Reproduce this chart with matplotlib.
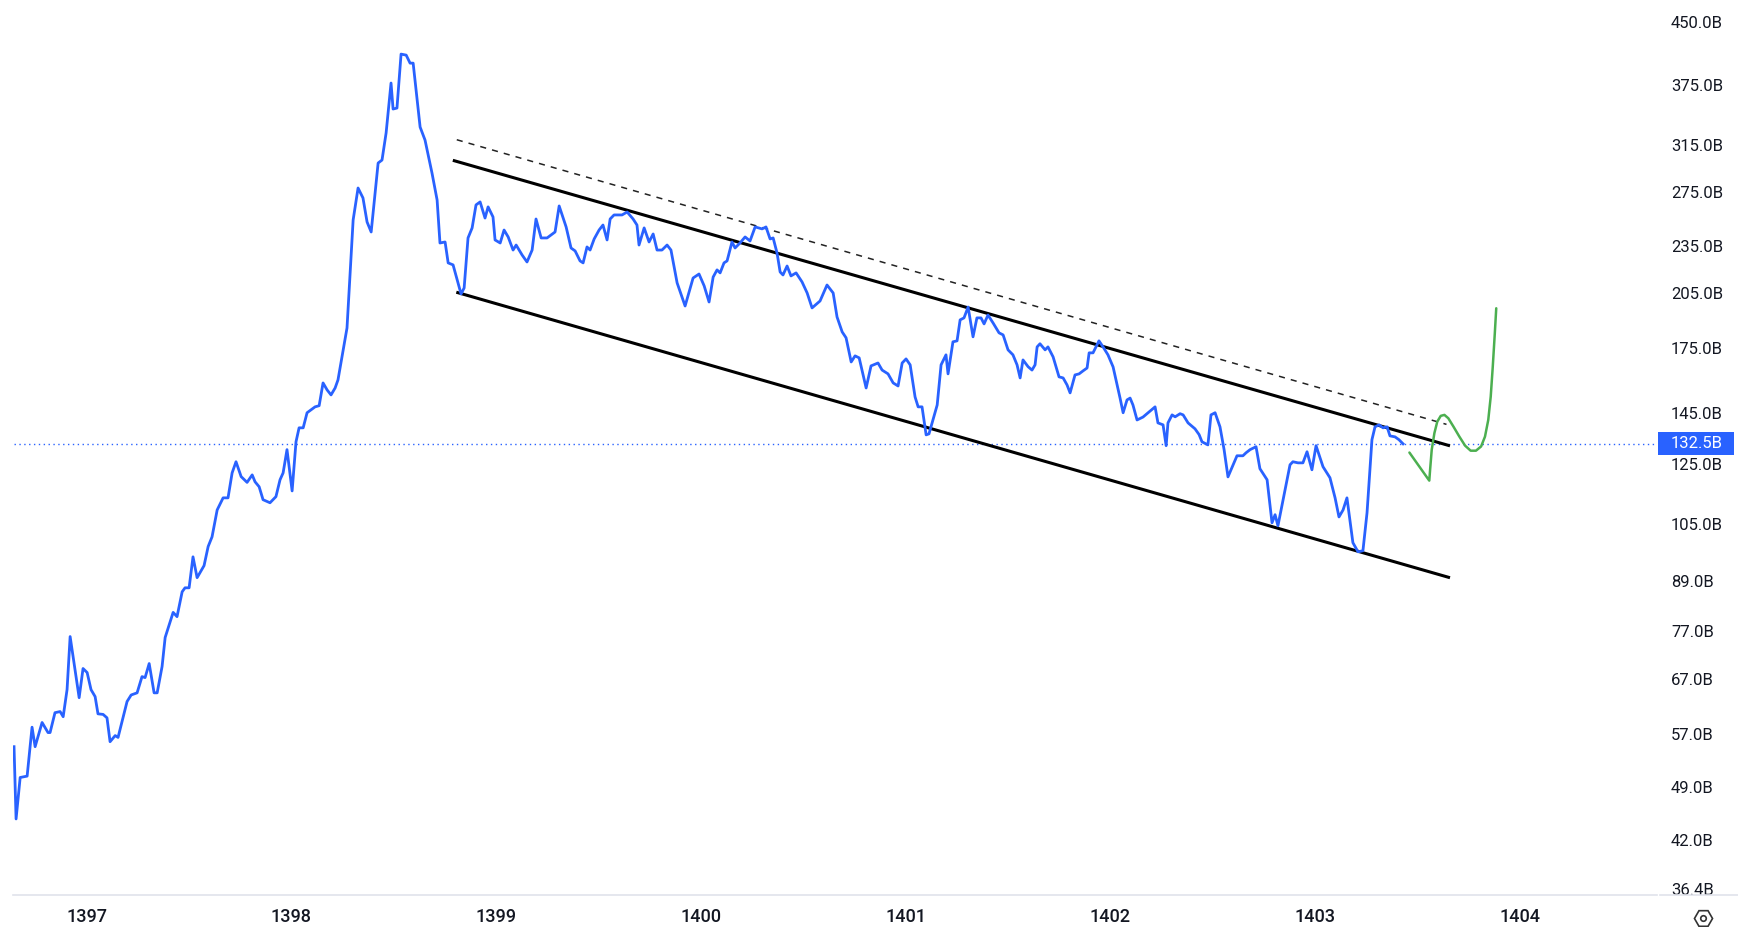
import matplotlib.pyplot as plt
from matplotlib.lines import Line2D
from matplotlib.patches import Rectangle
from matplotlib.ticker import NullLocator

plt.rcParams['font.family'] = ['Roboto', 'DejaVu Sans']

# price history (time in fractional years, value in billions)
price_t = [1396.646, 1396.656, 1396.676, 1396.710, 1396.734, 1396.749, 1396.783, 1396.812, 1396.822, 1396.846,
           1396.871, 1396.886, 1396.905, 1396.920, 1396.964, 1396.983, 1397.003, 1397.022, 1397.042, 1397.056,
           1397.081, 1397.100, 1397.115, 1397.140, 1397.154, 1397.198, 1397.218, 1397.247, 1397.271, 1397.286,
           1397.306, 1397.330, 1397.345, 1397.369, 1397.384, 1397.423, 1397.442, 1397.467, 1397.481, 1397.501,
           1397.520, 1397.540, 1397.574, 1397.594, 1397.613, 1397.638, 1397.667, 1397.691, 1397.711, 1397.730,
           1397.755, 1397.784, 1397.809, 1397.823, 1397.843, 1397.862, 1397.896, 1397.925, 1397.945, 1397.960,
           1397.979, 1398.004, 1398.023, 1398.038, 1398.058, 1398.077, 1398.116, 1398.136, 1398.155, 1398.175,
           1398.194, 1398.214, 1398.228, 1398.272, 1398.302, 1398.326, 1398.350, 1398.370, 1398.390, 1398.424,
           1398.443, 1398.463, 1398.487, 1398.497, 1398.516, 1398.536, 1398.561, 1398.580, 1398.595, 1398.629,
           1398.653, 1398.687, 1398.712, 1398.726, 1398.751, 1398.766, 1398.790, 1398.829, 1398.844, 1398.863,
           1398.883, 1398.902, 1398.922, 1398.946, 1398.961, 1398.985, 1398.995, 1399.020, 1399.039, 1399.059,
           1399.083, 1399.098, 1399.127, 1399.151, 1399.176, 1399.195, 1399.220, 1399.249, 1399.288, 1399.308,
           1399.342, 1399.366, 1399.386, 1399.410, 1399.425, 1399.444, 1399.459, 1399.479, 1399.503, 1399.522,
           1399.542, 1399.557, 1399.576, 1399.615, 1399.640, 1399.669, 1399.688, 1399.698, 1399.723, 1399.747,
           1399.767, 1399.786, 1399.810, 1399.835, 1399.854, 1399.884, 1399.923, 1399.962, 1399.991, 1400.016,
           1400.040, 1400.060, 1400.079, 1400.094, 1400.113, 1400.128, 1400.152, 1400.167, 1400.191, 1400.216,
           1400.240, 1400.265, 1400.299, 1400.318, 1400.338, 1400.353, 1400.372, 1400.387, 1400.401, 1400.421,
           1400.440, 1400.465, 1400.494, 1400.519, 1400.543, 1400.582, 1400.616, 1400.646, 1400.665, 1400.690,
           1400.709, 1400.734, 1400.753, 1400.773, 1400.807, 1400.831, 1400.865, 1400.885, 1400.914, 1400.939,
           1400.963, 1400.983, 1401.002, 1401.022, 1401.046, 1401.061, 1401.080, 1401.100, 1401.114, 1401.154,
           1401.173, 1401.197, 1401.207, 1401.231, 1401.251, 1401.266, 1401.285, 1401.305, 1401.329, 1401.348,
           1401.368, 1401.383, 1401.402, 1401.427, 1401.456, 1401.476, 1401.500, 1401.524, 1401.544, 1401.559,
           1401.573, 1401.598, 1401.617, 1401.632, 1401.642, 1401.656, 1401.681, 1401.695, 1401.720, 1401.749,
           1401.769, 1401.788, 1401.803, 1401.827, 1401.847, 1401.866, 1401.886, 1401.896, 1401.915, 1401.944,
           1401.964, 1401.988, 1402.013, 1402.047, 1402.062, 1402.081, 1402.096, 1402.110, 1402.130, 1402.159,
           1402.218, 1402.232, 1402.257, 1402.272, 1402.281, 1402.301, 1402.316, 1402.340, 1402.355, 1402.379,
           1402.413, 1402.433, 1402.447, 1402.476, 1402.491, 1402.511, 1402.535, 1402.555, 1402.574, 1402.608,
           1402.618, 1402.647, 1402.662, 1402.682, 1402.711, 1402.730, 1402.765, 1402.789, 1402.804, 1402.818,
           1402.843, 1402.877, 1402.891, 1402.916, 1402.940, 1402.960, 1402.984, 1403.004, 1403.038, 1403.072,
           1403.097, 1403.116, 1403.136, 1403.155, 1403.184, 1403.209, 1403.233, 1403.253, 1403.277, 1403.292,
           1403.312, 1403.331, 1403.351, 1403.365, 1403.390, 1403.409, 1403.429]
price_b = [55.0, 44.6, 50.3, 50.5, 58.2, 55.0, 59.0, 57.3, 57.3, 60.7,
           60.9, 60.0, 64.9, 75.7, 63.4, 69.0, 68.2, 64.9, 63.6, 60.5,
           60.4, 59.8, 55.8, 56.8, 56.5, 62.7, 63.9, 64.3, 67.4, 67.2,
           70.0, 64.3, 64.3, 69.4, 75.5, 81.2, 80.2, 86.2, 87.2, 87.2,
           95.4, 89.8, 93.0, 98.3, 101.1, 109.3, 113.2, 113.2, 121.7, 125.7,
           120.4, 118.4, 121.0, 118.6, 116.9, 112.6, 111.6, 113.6, 119.3, 121.7,
           130.2, 115.5, 133.2, 138.7, 138.7, 144.9, 147.4, 147.9, 158.0, 154.8,
           152.6, 155.7, 159.4, 185.3, 253.5, 278.1, 270.2, 252.0, 244.8, 299.0,
           301.6, 326.3, 377.1, 349.7, 350.7, 410.1, 408.9, 399.5, 399.5, 331.9,
           319.6, 290.5, 268.6, 237.1, 237.8, 223.8, 222.5, 204.5, 208.1, 240.6,
           247.7, 264.8, 267.1, 254.9, 263.3, 255.7, 239.2, 237.1, 246.2, 241.3,
           232.3, 235.7, 229.0, 224.4, 232.3, 254.2, 240.6, 240.6, 244.8, 264.0,
           248.4, 233.7, 231.7, 225.1, 223.8, 234.4, 232.3, 239.9, 246.2, 249.8,
           239.2, 254.2, 257.2, 257.2, 259.4, 254.2, 249.8, 235.7, 247.7, 237.8,
           243.4, 232.3, 232.3, 235.7, 232.3, 211.2, 197.5, 214.2, 216.7, 209.4,
           199.8, 214.8, 219.3, 217.4, 223.8, 225.1, 237.8, 233.7, 237.1, 241.3,
           238.5, 248.4, 247.0, 248.4, 239.9, 240.6, 230.3, 218.0, 216.1, 221.8,
           215.5, 217.4, 211.8, 205.1, 196.4, 200.4, 209.9, 205.1, 191.3, 183.2,
           180.1, 167.9, 170.9, 169.9, 155.7, 166.0, 167.4, 164.0, 162.2, 158.0,
           156.6, 167.4, 169.4, 166.5, 151.7, 147.4, 147.4, 135.9, 136.3, 148.2,
           166.5, 171.4, 162.2, 178.0, 178.5, 189.7, 190.8, 196.9, 180.6, 190.8,
           190.8, 187.5, 192.4, 188.0, 182.7, 181.6, 173.9, 171.4, 166.5, 160.3,
           168.9, 165.6, 164.0, 166.5, 175.4, 177.0, 173.9, 175.4, 170.4, 160.8,
           160.3, 157.1, 153.5, 161.7, 162.2, 163.6, 165.0, 172.4, 172.4, 178.5,
           175.4, 171.4, 165.5, 151.2, 144.9, 150.4, 151.2, 148.2, 141.9, 143.1,
           147.4, 140.7, 139.9, 131.7, 140.7, 144.0, 143.2, 144.5, 144.0, 140.7,
           138.3, 136.0, 133.2, 132.0, 144.0, 144.9, 139.1, 130.2, 120.3, 126.1,
           127.9, 127.9, 129.0, 130.2, 131.3, 123.2, 119.3, 105.3, 107.8, 104.4,
           112.6, 124.6, 125.7, 125.3, 125.3, 129.4, 122.8, 131.7, 123.9, 120.0,
           113.2, 107.1, 109.3, 113.2, 99.4, 96.8, 97.1, 108.4, 134.0, 139.1,
           139.9, 138.7, 139.1, 135.5, 135.1, 134.0, 132.4]

# hand-drawn projection
proj_t = [1403.460, 1403.557, 1403.561, 1403.569, 1403.582, 1403.596, 1403.613, 1403.631, 1403.650,
          1403.675, 1403.704, 1403.732, 1403.759, 1403.785, 1403.810, 1403.829, 1403.845, 1403.857,
          1403.867, 1403.877, 1403.884]
proj_b = [129.1, 119.0, 122.8, 130.2, 136.6, 141.2, 143.6, 144.0, 142.6,
          139.2, 135.2, 131.7, 129.8, 129.8, 131.4, 135.2, 141.9, 151.8,
          165.6, 182.5, 196.2]

# channel lines (start, end)
upper_t = [1398.796, 1403.651]
upper_b = [301.0, 131.8]
lower_t = [1398.813, 1403.651]
lower_b = [205.3, 89.9]
dash_t = [1398.808, 1403.641]
dash_b = [319.9, 140.1]

last_price = 132.5
years = [1397, 1398, 1399, 1400, 1401, 1402, 1403, 1404]
yticks = [450, 375, 315, 275, 235, 205, 175, 145, 125, 105, 89, 77, 67, 57, 49, 42, 36.4]

W, H = 1738, 927
fig = plt.figure(figsize=(W / 100, H / 100), dpi=100)
ax = fig.add_axes([13 / W, 1 - 895 / H, (1657 - 13) / W, 895 / H])

ax.set_yscale('log')
ax.set_xlim(1396.641, 1404.669)
ax.set_ylim(35.77, 479.8)

ax.plot(price_t, price_b, color='#2962ff', lw=2.0, solid_joinstyle='round', zorder=3)
ax.plot(proj_t, proj_b, color='#4caf50', lw=1.8, solid_joinstyle='round', solid_capstyle='round', zorder=3)
ax.plot(upper_t, upper_b, color='black', lw=2.2, zorder=2)
ax.plot(lower_t, lower_b, color='black', lw=2.2, zorder=2)
ax.plot(dash_t, dash_b, color='#222222', lw=1.1, ls=(0, (4, 4)), zorder=2)

ax.hlines(last_price, price_t[0], 1404.669, colors='#2962ff', linestyles=(0, (1, 2.5)), lw=1.0, zorder=1)

for s in ['top', 'left', 'right']:
    ax.spines[s].set_visible(False)
ax.spines['bottom'].set_color('#e0e3eb')
ax.spines['bottom'].set_linewidth(1.2)

ax.yaxis.tick_right()
ax.set_yticks(yticks)
ax.set_yticklabels([f'{v:.1f}B' for v in yticks])
ax.yaxis.set_minor_locator(NullLocator())
ax.tick_params(axis='y', length=0, pad=10, labelsize=12, labelcolor='#131722')

ax.set_xticks(years)
ax.set_xticklabels([str(y) for y in years], fontweight='medium')
ax.tick_params(axis='x', length=0, pad=9, labelsize=13, labelcolor='#131722')

# last price marker on the scale
tr = ax.get_yaxis_transform()
ax.add_patch(Rectangle((1.0009, 128.2), 76 / 1644, 137.0 - 128.2, transform=tr,
                       facecolor='#2962ff', edgecolor='none', clip_on=False, zorder=5))
ax.text(1.0085, last_price, f'{last_price}B', transform=tr, ha='left', va='center',
        color='white', fontsize=12, clip_on=False, zorder=6)

# scale settings icon
fig.add_artist(Line2D([1703 / W], [1 - 918 / H], marker='H', ms=13, mfc='none', mec='#333333',
                      mew=1.2, transform=fig.transFigure))
fig.add_artist(Line2D([1703 / W], [1 - 918 / H], marker='o', ms=4, mfc='none', mec='#333333',
                      mew=1.2, transform=fig.transFigure))
fig.add_artist(Line2D([1660 / W, 1738 / W], [1 - 895 / H, 1 - 895 / H], color='#e0e3eb', lw=1.2,
                      transform=fig.transFigure))

fig.savefig('out.png', dpi=100)
